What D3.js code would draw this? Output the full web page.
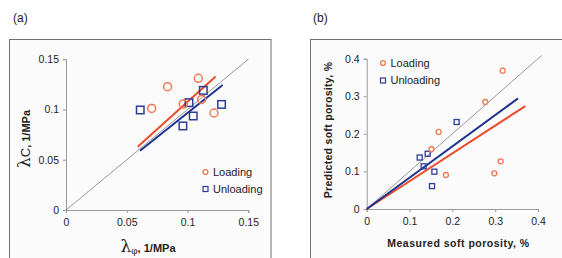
<!DOCTYPE html>
<html>
<head>
<meta charset="utf-8">
<script src="https://cdn.jsdelivr.net/npm/d3@7"></script>
<style>
  body { margin: 0; background: #fff; }
  svg { display: block; font-family: "Liberation Sans", Arial, sans-serif; }
</style>
</head>
<body>
<svg id="chart" width="562" height="258"></svg>
<script>
// panel (a): lambda_phi vs lambda_c, 1/MPa
var aTicks = [0, 0.05, 0.1, 0.15];
var aTickLabels = ["0", "0.05", "0.1", "0.15"];
var aLoadX = [0.0705, 0.0836, 0.0965, 0.1089, 0.1116, 0.1218];
var aLoadY = [0.1010, 0.1227, 0.1054, 0.1310, 0.1100, 0.0965];
var aUnloadX = [0.0611, 0.0962, 0.1012, 0.1047, 0.1130, 0.1280];
var aUnloadY = [0.0995, 0.0836, 0.1068, 0.0935, 0.1190, 0.1050];
var aLoadFit = [[0.059, 0.063], [0.1231, 0.1327]];
var aUnloadFit = [[0.0609, 0.059], [0.1289, 0.1243]];
var aDiag = [[0, 0], [0.15, 0.15]];

// panel (b): measured vs predicted soft porosity, %
var bTicks = [0, 0.1, 0.2, 0.3, 0.4];
var bTickLabels = ["0", "0.1", "0.2", "0.3", "0.4"];
var bLoadX = [0.151, 0.168, 0.185, 0.277, 0.3175, 0.298, 0.3128];
var bLoadY = [0.159, 0.205, 0.0905, 0.2847, 0.368, 0.095, 0.127];
var bUnloadX = [0.210, 0.1237, 0.1424, 0.133, 0.158, 0.1525];
var bUnloadY = [0.2315, 0.137, 0.147, 0.1136, 0.0993, 0.061];
var bLoadFit = [[0, 0], [0.3704, 0.274]];
var bUnloadFit = [[0, 0], [0.3533, 0.2945]];
var bDiag = [[0, 0], [0.408, 0.408]];

var orange = "#f07a52", red = "#ec4b2c", navy = "#2e3d98", blueLine = "#1d3393";

var svg = d3.select("#chart");

function zip(xs, ys) { return xs.map(function (x, i) { return [x, ys[i]]; }); }

function panel(o) {
  var g = svg.append("g");
  // frame
  g.append("rect").attr("x", o.frame[0]).attr("y", o.frame[1])
    .attr("width", o.frame[2]).attr("height", o.frame[3])
    .attr("fill", "#fbfbfb").attr("stroke", "#707070").attr("stroke-width", 1);
  g.append("text").attr("x", o.tag[0]).attr("y", o.tag[1])
    .attr("font-size", 12).attr("fill", "#222").text(o.tagText);

  var x = d3.scaleLinear().domain(o.xDomain).range(o.xRange);
  var y = d3.scaleLinear().domain(o.yDomain).range(o.yRange);

  var xAxis = d3.axisBottom(x).tickValues(o.ticks).tickSize(3).tickPadding(6)
    .tickFormat(function (d, i) { return o.tickLabels[i]; });
  var yAxis = d3.axisLeft(y).tickValues(o.ticks).tickSize(3).tickPadding(4)
    .tickFormat(function (d, i) { return o.tickLabels[i]; });

  [g.append("g").attr("transform", "translate(0," + o.yRange[0] + ")").call(xAxis),
   g.append("g").attr("transform", "translate(" + o.xRange[0] + ",0)").call(yAxis)]
    .forEach(function (ax) {
      ax.select(".domain").attr("stroke", "#9a9a9a");
      ax.selectAll(".tick line").attr("stroke", "#9a9a9a");
      ax.selectAll(".tick text").attr("font-size", 10.5)
        .attr("font-family", "Liberation Sans, Arial, sans-serif").attr("fill", "#222");
    });

  var line = d3.line().x(function (d) { return x(d[0]); }).y(function (d) { return y(d[1]); });
  g.append("path").attr("d", line(o.diag)).attr("fill", "none")
    .attr("stroke", "#555").attr("stroke-width", 0.6);
  g.append("path").attr("d", line(o.loadFit)).attr("fill", "none")
    .attr("stroke", red).attr("stroke-width", 2);
  g.append("path").attr("d", line(o.unloadFit)).attr("fill", "none")
    .attr("stroke", blueLine).attr("stroke-width", 2);

  g.selectAll("rect.unl").data(o.unload).enter().append("rect").attr("class", "unl")
    .attr("x", function (d) { return x(d[0]) - o.sq / 2; })
    .attr("y", function (d) { return y(d[1]) - o.sq / 2; })
    .attr("width", o.sq).attr("height", o.sq)
    .attr("fill", "none").attr("stroke", navy).attr("stroke-width", o.sw);
  g.selectAll("circle.ld").data(o.load).enter().append("circle").attr("class", "ld")
    .attr("cx", function (d) { return x(d[0]); })
    .attr("cy", function (d) { return y(d[1]); })
    .attr("r", o.r).attr("fill", "none").attr("stroke", orange).attr("stroke-width", o.sw);

  // legend
  var lg = g.append("g").attr("transform", "translate(" + o.legend[0] + "," + o.legend[1] + ")");
  lg.append("circle").attr("cx", 0).attr("cy", 0).attr("r", 2.4)
    .attr("fill", "none").attr("stroke", orange).attr("stroke-width", 1.4);
  lg.append("rect").attr("x", -2.5).attr("y", o.legendGap - 2.5).attr("width", 5).attr("height", 5)
    .attr("fill", "none").attr("stroke", navy).attr("stroke-width", 1.2);
  lg.append("text").attr("x", 7.5).attr("y", 0).attr("dy", "0.35em")
    .attr("font-size", 11).attr("fill", "#222").text("Loading");
  lg.append("text").attr("x", 7.5).attr("y", o.legendGap).attr("dy", "0.35em")
    .attr("font-size", 11).attr("fill", "#222").text("Unloading");
  return g;
}

var ga = panel({
  frame: [9.5, 39.5, 261.5, 240], tag: [13, 22], tagText: "(a)",
  xDomain: [0, 0.15], xRange: [66, 248.3], yDomain: [0, 0.15], yRange: [210, 59.2],
  ticks: aTicks, tickLabels: aTickLabels,
  load: zip(aLoadX, aLoadY), unload: zip(aUnloadX, aUnloadY),
  loadFit: aLoadFit, unloadFit: aUnloadFit, diag: aDiag,
  r: 4, sq: 7.5, sw: 1.5, legend: [205.5, 172], legendGap: 17
});

// (a) axis titles
var ay = ga.append("text").attr("transform", "translate(30,139) rotate(-90)")
  .attr("text-anchor", "middle").attr("fill", "#222");
ay.append("tspan").attr("font-family", "DejaVu Serif, serif").attr("font-size", 17).text("\u03bb");
ay.append("tspan").attr("font-size", 13).text("C");
ay.append("tspan").attr("font-size", 11).attr("font-weight", "bold").text(", 1/MPa");

var ax = ga.append("text").attr("x", 148).attr("y", 252)
  .attr("text-anchor", "middle").attr("fill", "#222");
ax.append("tspan").attr("font-family", "DejaVu Serif, serif").attr("font-size", 17).text("\u03bb");
ax.append("tspan").attr("font-family", "DejaVu Serif, serif").attr("font-size", 9).attr("dy", 2).text("\u03c6");
ax.append("tspan").attr("font-size", 11).attr("font-weight", "bold").attr("dy", -2).text(", 1/MPa");

var gb = panel({
  frame: [310.5, 39.5, 260, 240], tag: [313, 22], tagText: "(b)",
  xDomain: [0, 0.4], xRange: [366.7, 538], yDomain: [0, 0.4], yRange: [209, 58.7],
  ticks: bTicks, tickLabels: bTickLabels,
  load: zip(bLoadX, bLoadY), unload: zip(bUnloadX, bUnloadY),
  loadFit: bLoadFit, unloadFit: bUnloadFit, diag: bDiag,
  r: 2.5, sq: 5, sw: 1.3, legend: [383, 63], legendGap: 17.5
});

gb.append("text").attr("transform", "translate(332,130) rotate(-90)")
  .attr("text-anchor", "middle").attr("font-size", 10.5).attr("font-weight", "bold")
  .attr("letter-spacing", 0.3).attr("fill", "#222").text("Predicted soft porosity, %");
gb.append("text").attr("x", 458.5).attr("y", 246.5)
  .attr("text-anchor", "middle").attr("font-size", 10.5).attr("font-weight", "bold")
  .attr("letter-spacing", 0.5).attr("fill", "#222").text("Measured soft porosity, %");
</script>
</body>
</html>
